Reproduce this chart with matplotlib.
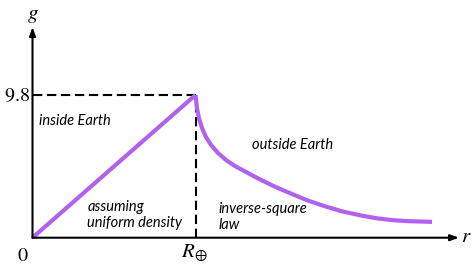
import matplotlib
matplotlib.use("Agg")
import matplotlib.pyplot as plt

plt.rcParams['mathtext.fontset'] = 'stix'

# Data (r in units of Earth radius, g in m/s^2)
r_inside = [0.0, 1.0]
g_inside = [0.0, 9.8]

r_outside = [1.000, 1.009, 1.021, 1.040, 1.064, 1.095, 1.138, 1.187, 1.242, 1.304,
             1.384, 1.488, 1.592, 1.690, 1.794, 1.899, 2.009, 2.113, 2.212, 2.316, 2.451]
g_outside = [9.80, 8.91, 8.22, 7.53, 6.92, 6.37, 5.82, 5.34, 4.92, 4.55,
             4.07, 3.50, 3.00, 2.55, 2.16, 1.81, 1.54, 1.33, 1.20, 1.13, 1.09]

g_surface = 9.8
r_surface = 1.0
ytick_label = "$9.8$"
origin_label = "$0$"
xtick_label = r"$R_{\oplus}$"
xlabel = "$r$"
ylabel = "$g$"

purple = '#b062ee'

fig = plt.figure(figsize=(4.74, 2.65), dpi=100)
ax = fig.add_axes([0, 0, 1, 1])
ax.set_xlim(-0.1994, 2.7086)
ax.set_ylim(-1.875, 16.325)
ax.axis('off')

# axes with arrows
arrow_kw = dict(arrowstyle='-|>,head_length=0.5,head_width=0.18', color='black',
                lw=1.5, mutation_scale=10, shrinkA=0, shrinkB=0)
ax.annotate('', xy=(2.617, 0), xytext=(0, 0), arrowprops=arrow_kw)
ax.annotate('', xy=(0, 14.47), xytext=(0, 0), arrowprops=arrow_kw)

# dashed guides
ax.plot([0, r_surface], [g_surface, g_surface], color='black', lw=1.5,
        linestyle=(0, (4.5, 2.2)))
ax.plot([r_surface, r_surface], [0, g_surface], color='black', lw=1.5,
        linestyle=(0, (4.5, 2.2)))

# curves
ax.plot(r_inside, g_inside, color=purple, lw=3.0, solid_capstyle='butt')
ax.plot(r_outside, g_outside, color=purple, lw=3.0, solid_capstyle='butt',
        solid_joinstyle='round')

# labels
ax.text(-0.015, g_surface, ytick_label, ha='right', va='center', fontsize=14.5)
ax.text(-0.057, -1.25, origin_label, ha='center', va='center', fontsize=14.5)
ax.text(0.99, -1.05, xtick_label, ha='center', va='center', fontsize=15)
ax.text(0.0, 15.3, ylabel, ha='center', va='center', fontsize=15)
ax.text(2.66, 0.1, xlabel, ha='center', va='center', fontsize=15)

tkw = dict(fontsize=10.5, style='italic', family='Lato', va='center', ha='left')
ax.text(0.04, 8.04, 'inside Earth', **tkw)
ax.text(1.345, 6.37, 'outside Earth', **tkw)
ax.text(0.336, 1.56, 'assuming\nuniform density', linespacing=1.15, **tkw)
ax.text(1.144, 1.44, 'inverse-square\nlaw', linespacing=1.15, **tkw)

fig.savefig('out.png', dpi=100)
